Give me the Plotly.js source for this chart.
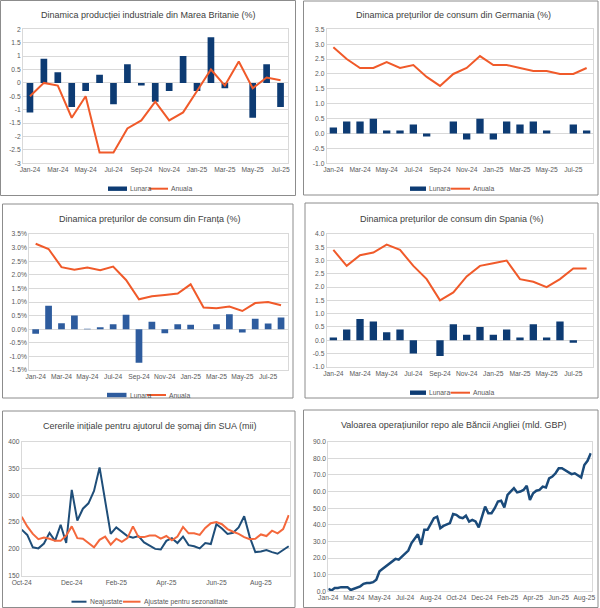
<!DOCTYPE html>
<html>
<head>
<meta charset="utf-8">
<script src="https://cdn.plot.ly/plotly-3.0.1.min.js"></script>
<style>
  html, body { margin: 0; padding: 0; background: #fff; }
  #plot { width: 600px; height: 608px; }
</style>
</head>
<body>
<div id="plot"></div>
<script>
// luni (categorii)
var months = ['Jan-24','Feb-24','Mar-24','Apr-24','May-24','Jun-24','Jul-24','Aug-24','Sep-24','Oct-24',
  'Nov-24','Dec-24','Jan-25','Feb-25','Mar-25','Apr-25','May-25','Jun-25','Jul-25','Aug-25'];
var ukMonths = months.slice(0, 19);

// Marea Britanie - productie industriala
var ukLunara = [-1.1, 0.9, 0.4, -0.9, -0.3, 0.3, -0.8, 0.7, -0.1, -0.7, -0.3, 1.0, -0.3, 1.7, -0.2, 0, -1.3, 0.7, -0.9];
var ukAnuala = [-0.5, 0.0, -0.1, -1.3, -0.5, -2.6, -2.6, -1.7, -1.4, -0.7, -1.4, -1.1, -0.3, 0.5, -0.1, 0.8, -0.2, 0.2, 0.1];

// Germania - preturi de consum
var deLunara = [0.2, 0.4, 0.4, 0.5, 0.1, 0.1, 0.3, -0.1, 0, 0.4, -0.2, 0.5, -0.2, 0.4, 0.3, 0.4, 0.1, 0, 0.3, 0.1];
var deAnuala = [2.9, 2.5, 2.2, 2.2, 2.4, 2.2, 2.3, 1.9, 1.6, 2.0, 2.2, 2.6, 2.3, 2.3, 2.2, 2.1, 2.1, 2.0, 2.0, 2.2];

// Franta - preturi de consum
var frLunara = [-0.17, 0.86, 0.22, 0.5, 0.02, 0.07, 0.18, 0.53, -1.23, 0.27, -0.15, 0.18, 0.16, 0, 0.18, 0.55, -0.12, 0.38, 0.21, 0.43];
var frAnuala = [3.14, 2.95, 2.28, 2.19, 2.27, 2.17, 2.3, 1.81, 1.1, 1.21, 1.26, 1.31, 1.65, 0.8, 0.77, 0.83, 0.67, 0.96, 1.0, 0.88];

// Spania - preturi de consum
var esLunara = [0.1, 0.4, 0.8, 0.7, 0.3, 0.4, -0.5, 0, -0.6, 0.6, 0.2, 0.5, 0.2, 0.4, 0.1, 0.6, 0.1, 0.7, -0.1, 0];
var esAnuala = [3.4, 2.8, 3.2, 3.3, 3.6, 3.4, 2.8, 2.3, 1.5, 1.8, 2.4, 2.8, 2.9, 3.0, 2.3, 2.2, 2.0, 2.3, 2.7, 2.7];

// SUA - cereri initiale somaj (mii), saptamanal
var usWeeks = ['2024-10-05','2024-10-12','2024-10-19','2024-10-26','2024-11-02','2024-11-09','2024-11-16',
  '2024-11-23','2024-11-30','2024-12-07','2024-12-14','2024-12-21','2024-12-28','2025-01-04','2025-01-11',
  '2025-01-18','2025-01-25','2025-02-01','2025-02-08','2025-02-15','2025-02-22','2025-03-01','2025-03-08',
  '2025-03-15','2025-03-22','2025-03-29','2025-04-05','2025-04-12','2025-04-19','2025-04-26','2025-05-03',
  '2025-05-10','2025-05-17','2025-05-24','2025-05-31','2025-06-07','2025-06-14','2025-06-21','2025-06-28',
  '2025-07-05','2025-07-12','2025-07-19','2025-07-26','2025-08-02','2025-08-09','2025-08-16','2025-08-23',
  '2025-08-30','2025-09-06'];
var usNeajustate = [236, 226, 203, 201, 210, 230, 215, 245, 211, 310, 253, 275, 285, 308, 352, 290, 228, 240,
  232, 224, 221, 224, 212, 206, 200, 199, 215, 220, 211, 223, 207, 205, 201, 211, 209, 246, 238, 228, 230,
  240, 261, 222, 194, 195, 198, 194, 191, 198, 205];
var usAjustate = [260, 242, 228, 218, 221, 219, 215, 215, 225, 242, 220, 219, 211, 203, 217, 223, 208, 219,
  213, 220, 242, 222, 222, 225, 225, 219, 224, 216, 223, 241, 229, 229, 226, 239, 248, 250, 246, 237, 232,
  228, 222, 218, 219, 227, 224, 234, 229, 237, 263];
var usTicks = ['2024-10-05', '2024-12-07', '2025-02-01', '2025-04-05', '2025-06-07', '2025-08-02'];

// Banca Angliei - repo (mld. GBP), saptamanal
var repoVals = [1.5, 0.5, 2, 2, 2.5, 2.5, 2.5, 0.8, 1.5, 2.5, 3, 4.5, 5, 5, 5.5, 7, 12, 13.5, 15, 17,
  18.5, 19.5, 19, 21, 23, 24.5, 29, 31.3, 34.3, 28, 37, 37, 40.5, 44, 44.9, 38, 39.3, 40, 41, 46.5,
  46, 44.5, 44, 45.5, 42, 43, 42, 38.5, 45, 51, 47, 47, 50, 54, 54.5, 50.5, 58, 60, 62, 59.5,
  60, 61, 63.5, 55, 59, 60.5, 61, 63, 62.5, 68, 69, 71, 74, 74, 73, 72, 70.5, 71, 69.5, 68.5,
  76, 78.5, 83];
var repoLabels = ['Jan-24','Mar-24','May-24','Jul-24','Aug-24','Oct-24','Dec-24','Feb-25','Apr-25','Jun-25','Aug-25'];

var navy = '#0d3b73';
var blueFr = '#2e5c9e';
var orange = '#f05a2a';
var usBlue = '#1f4e79';
var usOrange = '#f4683c';
var grid = '#d9d9d9';
var txt = '#595959';
var FONT = 'Liberation Sans, Arial, sans-serif';
var TICK = 6.7;
var W = 600, H = 608;

// helpers: pixel -> paper
function px(x) { return x / W; }
function py(y) { return 1 - y / H; }

function ticks(lo, hi, step, dec, suffix) {
  var v = [], t = [];
  for (var k = 0; lo + k * step <= hi + 1e-9; k++) {
    var val = +(lo + k * step).toFixed(4);
    v.push(val);
    t.push((dec === null ? String(val) : val.toFixed(dec)) + (suffix || ''));
  }
  return { tickvals: v, ticktext: t };
}

function everyOther(arr) {
  return arr.filter(function(e, i) { return i % 2 === 0; });
}

var data = [
  { type: 'bar', x: ukMonths, y: ukLunara, xaxis: 'x', yaxis: 'y', name: 'Lunara', width: 0.48,
    marker: { color: navy } },
  { type: 'scatter', mode: 'lines', x: ukMonths, y: ukAnuala, xaxis: 'x', yaxis: 'y', name: 'Anuala',
    line: { color: orange, width: 2 } },

  { type: 'bar', x: months, y: deLunara, xaxis: 'x2', yaxis: 'y2', name: 'Lunara', width: 0.55,
    marker: { color: navy } },
  { type: 'scatter', mode: 'lines', x: months, y: deAnuala, xaxis: 'x2', yaxis: 'y2', name: 'Anuala',
    line: { color: orange, width: 2 } },

  { type: 'bar', x: months, y: frLunara, xaxis: 'x3', yaxis: 'y3', name: 'Lunara', width: 0.52,
    marker: { color: blueFr } },
  { type: 'scatter', mode: 'lines', x: months, y: frAnuala, xaxis: 'x3', yaxis: 'y3', name: 'Anuala',
    line: { color: orange, width: 2 } },

  { type: 'bar', x: months, y: esLunara, xaxis: 'x4', yaxis: 'y4', name: 'Lunara', width: 0.55,
    marker: { color: navy } },
  { type: 'scatter', mode: 'lines', x: months, y: esAnuala, xaxis: 'x4', yaxis: 'y4', name: 'Anuala',
    line: { color: orange, width: 2 } },

  { type: 'scatter', mode: 'lines', x: usWeeks, y: usNeajustate, xaxis: 'x5', yaxis: 'y5', name: 'Neajustate',
    line: { color: usBlue, width: 2 } },
  { type: 'scatter', mode: 'lines', x: usWeeks, y: usAjustate, xaxis: 'x5', yaxis: 'y5',
    name: 'Ajustate pentru sezonalitate', line: { color: usOrange, width: 2 } },

  { type: 'scatter', mode: 'lines', x: repoVals.map(function(v, i) { return i; }), y: repoVals,
    xaxis: 'x6', yaxis: 'y6', name: 'Repo', line: { color: '#1a4a7a', width: 2.5 } }
];

function xcat(dom, n, anchor) {
  return {
    domain: dom, anchor: anchor, type: 'category', range: [-0.5, n - 0.5],
    tickmode: 'array', tickvals: everyOther(months.slice(0, n)),
    showgrid: false, showline: true, mirror: true, linecolor: grid, ticks: '',
    tickfont: { size: TICK, color: txt }, automargin: false, fixedrange: true
  };
}

function yax(dom, anchor, lo, hi, tk) {
  return {
    domain: dom, anchor: anchor, range: [lo, hi], tickmode: 'array',
    tickvals: tk.tickvals, ticktext: tk.ticktext, gridcolor: grid, gridwidth: 1,
    zeroline: false, showline: true, mirror: true, linecolor: grid, ticks: '',
    tickfont: { size: TICK, color: txt }, automargin: false, fixedrange: true
  };
}

function title(text, x, y) {
  return {
    text: text, xref: 'paper', yref: 'paper', x: px(x), y: py(y),
    xanchor: 'center', yanchor: 'middle', showarrow: false,
    font: { size: 9, color: '#404040', family: FONT }
  };
}

function box(x0, y0, x1, y1) {
  return {
    type: 'rect', xref: 'paper', yref: 'paper', x0: px(x0), x1: px(x1), y0: py(y1), y1: py(y0),
    line: { color: '#8c8c8c', width: 1 }, fillcolor: 'rgba(0,0,0,0)'
  };
}

// legends drawn like Excel: small swatch + label, positions in px
var shapes = [
  box(0.5, 0.5, 295.5, 195.5),
  box(303.5, 1, 598, 195),
  box(2.5, 204, 293, 398),
  box(305, 203, 598, 398),
  box(2.5, 411, 295, 607.5),
  box(303.5, 410, 598, 607.5)
];
var annotations = [
  title('Dinamica producției industriale din Marea Britanie (%)', 148, 15),
  title('Dinamica prețurilor de consum din Germania (%)', 453, 15),
  title('Dinamica prețurilor de consum din Franța (%)', 150, 219.3),
  title('Dinamica prețurilor de consum din Spania (%)', 452, 219.3),
  title('Cererile inițiale pentru ajutorul de șomaj din SUA (mii)', 150, 426),
  title('Valoarea operațiunilor repo ale Băncii Angliei (mld. GBP)', 453, 425)
];

function legendItem(kind, color, label, x0, x1, y) {
  if (kind === 'bar') {
    shapes.push({ type: 'rect', xref: 'paper', yref: 'paper', x0: px(x0), x1: px(x1),
      y0: py(y + 2.2), y1: py(y - 2.2), line: { width: 0 }, fillcolor: color });
  } else {
    shapes.push({ type: 'line', xref: 'paper', yref: 'paper', x0: px(x0), x1: px(x1),
      y0: py(y), y1: py(y), line: { color: color, width: 2 } });
  }
  annotations.push({ text: label, xref: 'paper', yref: 'paper', x: px(x1 + 1), y: py(y),
    xanchor: 'left', yanchor: 'middle', showarrow: false,
    font: { size: 6.8, color: txt, family: FONT } });
}

legendItem('bar', navy, 'Lunara', 108, 127, 188.7);
legendItem('line', orange, 'Anuala', 149, 168, 188.7);
legendItem('bar', navy, 'Lunara', 410, 426, 188.7);
legendItem('line', orange, 'Anuala', 450.5, 470, 188.7);
legendItem('bar', blueFr, 'Lunara', 107, 126.5, 395);
legendItem('line', orange, 'Anuala', 147, 166, 395);
legendItem('bar', navy, 'Lunara', 410, 426, 392.7);
legendItem('line', orange, 'Anuala', 450.5, 470, 392.7);
legendItem('line', usBlue, 'Neajustate', 71.5, 86.5, 601.7);
legendItem('line', usOrange, 'Ajustate pentru sezonalitate', 123, 140.5, 601.7);

var layout = {
  width: W, height: H,
  margin: { l: 0, r: 0, t: 0, b: 0 },
  paper_bgcolor: '#fff', plot_bgcolor: '#fff',
  font: { family: FONT, color: txt },
  showlegend: false,

  xaxis: xcat([px(23), px(287.5)], 19, 'y'),
  yaxis: yax([py(163.3), py(29.3)], 'x', -3, 2, ticks(-3, 2, 0.5, null)),

  xaxis2: xcat([px(326.7), px(593.3)], 20, 'y2'),
  yaxis2: yax([py(163.3), py(29.3)], 'x2', -1, 3.5, ticks(-1, 3.5, 0.5, 1)),

  xaxis3: xcat([px(29.2), px(287.5)], 20, 'y3'),
  yaxis3: yax([py(370), py(234)], 'x3', -1.5, 3.5, ticks(-1.5, 3.5, 0.5, 1, '%')),

  xaxis4: xcat([px(326.7), px(593.3)], 20, 'y4'),
  yaxis4: yax([py(366.7), py(234)], 'x4', -1, 4, ticks(-1, 4, 0.5, 1)),

  xaxis5: {
    domain: [px(21.7), px(289.5)], anchor: 'y5', type: 'date',
    range: ['2024-10-05', '2025-09-07'], tickmode: 'array', tickvals: usTicks, tickformat: '%b-%y',
    showgrid: false, showline: true, mirror: true, linecolor: grid, ticks: '',
    tickfont: { size: TICK, color: txt }, automargin: false, fixedrange: true
  },
  yaxis5: yax([py(575.7), py(441.7)], 'x5', 150, 400, ticks(150, 400, 50, 0)),

  xaxis6: {
    domain: [px(328.3), px(591.7)], anchor: 'y6', range: [0, 82.3],
    tickmode: 'array', tickvals: repoLabels.map(function(l, i) { return i * 8; }), ticktext: repoLabels,
    showgrid: false, showline: true, mirror: true, linecolor: grid, ticks: '', zeroline: false,
    tickfont: { size: TICK, color: txt }, automargin: false, fixedrange: true
  },
  yaxis6: yax([py(591.3), py(441.7)], 'x6', 0, 90, ticks(0, 90, 10, 1)),

  annotations: annotations,
  shapes: shapes
};

var p = document.getElementById('plot');
Plotly.newPlot(p, data, layout, { staticPlot: true, displayModeBar: false });
</script>
</body>
</html>
